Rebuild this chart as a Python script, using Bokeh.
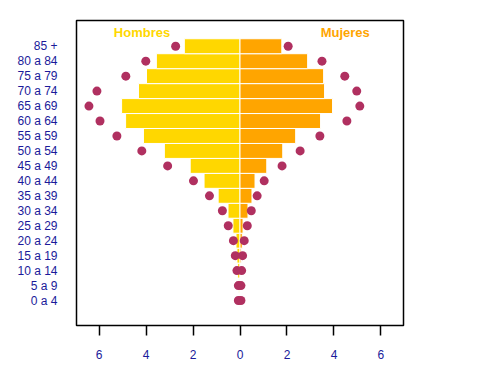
from bokeh.plotting import figure
from bokeh.models import FixedTicker, Range1d, ColumnDataSource
from bokeh.core.properties import value
from bokeh.embed import file_html
from bokeh.resources import INLINE

age_groups = ["0 a 4", "5 a 9", "10 a 14", "15 a 19", "20 a 24", "25 a 29", "30 a 34",
              "35 a 39", "40 a 44", "45 a 49", "50 a 54", "55 a 59", "60 a 64",
              "65 a 69", "70 a 74", "75 a 79", "80 a 84", "85 +"]
men_bars = [0.03, 0.05, 0.10, 0.13, 0.17, 0.30, 0.51, 0.93, 1.53, 2.12, 3.22, 4.11,
            4.87, 5.04, 4.32, 3.98, 3.56, 2.37]
women_bars = [0.0, 0.0, 0.02, 0.05, 0.10, 0.13, 0.34, 0.51, 0.64, 1.14, 1.82, 2.37,
              3.43, 3.94, 3.60, 3.56, 2.88, 1.78]
men_dots = [0.07, 0.07, 0.13, 0.20, 0.28, 0.50, 0.75, 1.30, 1.98, 3.08, 4.18, 5.24,
            5.96, 6.43, 6.09, 4.86, 4.01, 2.74]
women_dots = [0.04, 0.04, 0.07, 0.11, 0.18, 0.31, 0.48, 0.73, 1.03, 1.79, 2.56, 3.40,
              4.55, 5.10, 4.97, 4.46, 3.49, 2.05]
x_ticks = [-6, -4, -2, 0, 2, 4, 6]
titles = ["Hombres", "Mujeres"]

rows = list(range(1, len(age_groups) + 1))

src = ColumnDataSource(dict(
    y=rows,
    men_left=[-v for v in men_bars],
    women_right=women_bars,
    men_dot=[-v for v in men_dots],
    women_dot=women_dots,
))

p = figure(width=472, height=375, output_backend="svg", toolbar_location=None,
           x_range=Range1d(-6.96, 6.96), y_range=Range1d(-0.67, 19.72),
           min_border_left=76, min_border_right=69, min_border_top=20,
           min_border_bottom=50)

p.hbar(y="y", left="men_left", right=0, height=1.0, source=src,
       fill_color="#FFD700", line_color="white", line_width=1)
p.hbar(y="y", left=0, right="women_right", height=1.0, source=src,
       fill_color="#FFA500", line_color="white", line_width=1)
p.scatter(x="men_dot", y="y", size=9, source=src, fill_color="#B03060", line_color=None)
p.scatter(x="women_dot", y="y", size=9, source=src, fill_color="#B03060", line_color=None)

p.text(x=[-4.17, 4.48], y=[18.9, 18.9], text=titles,
       text_color=["#FFD700", "#FFA500"], text_font=value("Liberation Sans"),
       text_font_style="bold", text_font_size="13px", text_align="center",
       text_baseline="middle")

p.grid.visible = False
p.outline_line_color = "black"
p.outline_line_width = 1.5
p.background_fill_color = "white"

p.xaxis.ticker = FixedTicker(ticks=x_ticks)
p.xaxis.major_label_overrides = {t: str(abs(t)) for t in x_ticks}
p.xaxis.axis_line_color = None
p.xaxis.major_tick_in = 0
p.xaxis.major_tick_out = 10
p.xaxis.major_tick_line_color = "black"
p.xaxis.major_tick_line_width = 1.5
p.xaxis.minor_tick_line_color = None
p.xaxis.major_label_standoff = 14
p.xaxis.major_label_text_font = "Liberation Sans"
p.xaxis.major_label_text_font_size = "12px"
p.xaxis.major_label_text_color = "#1a1a9a"

p.yaxis.ticker = FixedTicker(ticks=rows)
p.yaxis.major_label_overrides = {r: g for r, g in zip(rows, age_groups)}
p.yaxis.axis_line_color = None
p.yaxis.major_tick_in = 0
p.yaxis.major_tick_out = 0
p.yaxis.major_tick_line_color = None
p.yaxis.minor_tick_line_color = None
p.yaxis.major_label_standoff = 19
p.yaxis.major_label_text_font = "Liberation Sans"
p.yaxis.major_label_text_font_size = "12px"
p.yaxis.major_label_text_color = "#1a1a9a"

open("out.html", "w").write(file_html(p, INLINE))
